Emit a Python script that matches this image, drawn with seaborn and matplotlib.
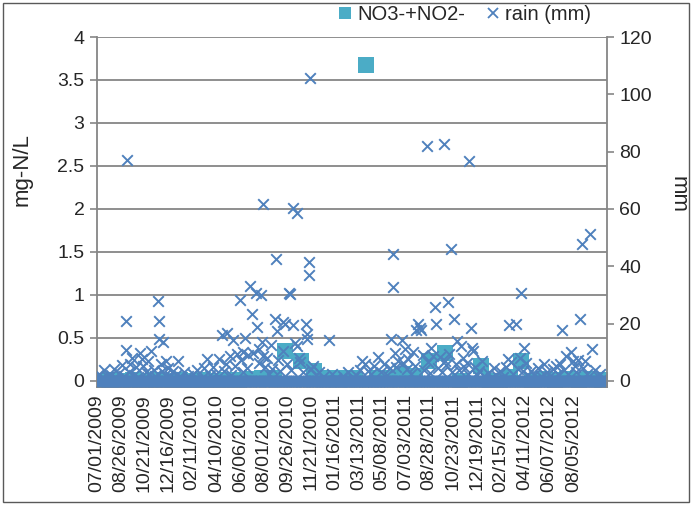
import matplotlib
matplotlib.use("Agg")
import matplotlib.pyplot as plt
from matplotlib.lines import Line2D
from matplotlib.patches import Rectangle
import seaborn as sns
import pandas as pd
import numpy as np

sns.set_style("white")
plt.rcParams["font.family"] = ["Liberation Sans", "DejaVu Sans"]

# --- data ---

# NO3- + NO2- samples (mg-N/L)
no3_dates = [
    "2009-07-01", "2009-07-29", "2009-08-26", "2009-09-23", "2009-10-21", "2009-11-18",
    "2009-12-16", "2010-01-13", "2010-02-10", "2010-03-10", "2010-04-07", "2010-05-05",
    "2010-06-02", "2010-06-30", "2010-07-28", "2010-08-25", "2010-09-20", "2010-10-27",
    "2010-11-28", "2010-12-29", "2011-01-26", "2011-02-23", "2011-03-06", "2011-04-01",
    "2011-04-27", "2011-05-25", "2011-06-25", "2011-07-26", "2011-08-27", "2011-10-05",
    "2011-11-10", "2011-12-29", "2012-01-20", "2012-02-12", "2012-03-07", "2012-04-02",
    "2012-04-28", "2012-05-25", "2012-06-22", "2012-07-20", "2012-08-17", "2012-09-14",
    "2012-10-12",
]
no3_values = [
    0.0, 0.01, 0.0, 0.01, 0.0, 0.01,
    0.0, 0.01, 0.0, 0.01, 0.0, 0.01,
    0.01, 0.02, 0.03, 0.03, 0.35, 0.23,
    0.12, 0.04, 0.03, 0.03, 0.02, 3.67,
    0.03, 0.03, 0.08, 0.06, 0.23, 0.33,
    0.0, 0.17, 0.0, 0.0, 0.05, 0.23,
    0.0, 0.02, 0.01, 0.02, 0.01, 0.02,
    0.01,
]

# daily rain record (mm); days not listed below were dry
record_start = "2009-07-01"
record_end = "2012-10-20"

storm_dates = [
    "2009-09-07", "2009-09-08", "2009-09-09", "2009-09-21", "2009-10-11", "2009-10-15",
    "2009-11-06", "2009-11-22", "2009-11-24", "2009-11-25", "2009-12-05", "2009-12-12",
    "2010-01-10", "2010-03-18", "2010-04-23", "2010-05-06", "2010-05-19", "2010-05-28",
    "2010-06-04", "2010-06-17", "2010-06-28", "2010-07-03", "2010-07-07", "2010-07-12",
    "2010-07-15", "2010-07-24", "2010-07-28", "2010-07-29", "2010-07-30", "2010-08-27",
    "2010-08-30", "2010-08-31", "2010-09-15", "2010-09-16", "2010-09-20", "2010-09-30",
    "2010-10-01", "2010-10-09", "2010-10-10", "2010-10-14", "2010-10-18", "2010-10-19",
    "2010-10-22", "2010-11-09", "2010-11-10", "2010-11-11", "2010-11-16", "2010-11-17",
    "2010-11-19", "2010-11-21", "2011-01-02", "2011-03-21", "2011-03-29", "2011-04-29",
    "2011-05-28", "2011-05-29", "2011-06-03", "2011-06-04", "2011-06-16", "2011-06-24",
    "2011-07-02", "2011-07-21", "2011-07-29", "2011-08-02", "2011-08-06", "2011-08-10",
    "2011-08-22", "2011-09-07", "2011-09-11", "2011-09-13", "2011-10-03", "2011-10-05",
    "2011-10-11", "2011-10-18", "2011-10-26", "2011-11-03", "2011-11-11", "2011-11-17",
    "2011-11-25", "2011-12-01", "2011-12-05", "2011-12-07", "2011-12-11", "2011-12-31",
    "2012-01-28", "2012-03-03", "2012-03-05", "2012-03-21", "2012-03-31", "2012-04-02",
    "2012-04-10", "2012-05-26", "2012-06-18", "2012-07-09", "2012-08-04", "2012-08-20",
    "2012-08-24", "2012-08-28", "2012-09-13", "2012-09-19",
]
storm_mm = [
    10.8, 21, 77, 8.1, 9.9, 7.6,
    10.5, 28, 21, 14.5, 13.7, 7,
    7, 7.6, 16, 16.9, 14.3, 9.3,
    28.1, 15.1, 33.1, 23.2, 9.9, 30.8,
    18.8, 29.9, 13.5, 61.6, 8.7, 21.7,
    42.7, 17.4, 20.6, 10.5, 20, 30.7,
    30.4, 19.5, 60.5, 13.4, 12.2, 58.6,
    8.1, 20, 16.3, 14.5, 37, 41.5,
    105.6, 4.3, 14.3, 7, 5.8, 8.4,
    4.5, 14.5, 32.8, 44.4, 7, 14.3,
    11, 10.1, 17.7, 19.8, 18.6, 17.8,
    82, 8.7, 25.8, 20, 82.6, 7,
    27.6, 45.9, 21.7, 14, 12.2, 8.1,
    6.4, 76.7, 18.4, 11.6, 10.5, 7,
    4.7, 7.6, 19.4, 20, 8.1, 30.8,
    11.6, 5.8, 4.1, 17.7, 7, 21.7,
    47.9, 4.7, 51.4, 11,
]

light_dates = [
    "2009-07-05", "2009-07-12", "2009-07-18", "2009-07-26", "2009-08-03", "2009-08-09",
    "2009-08-15", "2009-08-21", "2009-08-30", "2009-09-03", "2009-09-14", "2009-09-17",
    "2009-09-26", "2009-10-02", "2009-10-06", "2009-10-18", "2009-10-24", "2009-10-29",
    "2009-11-02", "2009-11-12", "2009-11-16", "2009-11-29", "2009-12-02", "2009-12-09",
    "2009-12-17", "2009-12-22", "2009-12-27", "2010-01-04", "2010-01-17", "2010-01-24",
    "2010-02-02", "2010-02-14", "2010-02-24", "2010-03-06", "2010-03-12", "2010-03-27",
    "2010-04-03", "2010-04-10", "2010-04-16", "2010-04-28", "2010-05-02", "2010-05-12",
    "2010-05-15", "2010-05-24", "2010-06-08", "2010-06-11", "2010-06-13", "2010-06-21",
    "2010-06-24", "2010-07-19", "2010-07-21", "2010-08-04", "2010-08-08", "2010-08-12",
    "2010-08-17", "2010-08-21", "2010-09-04", "2010-09-08", "2010-09-24", "2010-10-04",
    "2010-10-26", "2010-11-02", "2010-11-26", "2010-12-03", "2010-12-09", "2010-12-19",
    "2011-01-10", "2011-01-20", "2011-02-05", "2011-02-16", "2011-02-28", "2011-03-08",
    "2011-03-16", "2011-04-06", "2011-04-12", "2011-04-20", "2011-05-06", "2011-05-14",
    "2011-05-20", "2011-06-09", "2011-06-11", "2011-06-28", "2011-07-06", "2011-07-10",
    "2011-07-15", "2011-07-25", "2011-08-14", "2011-08-17", "2011-08-26", "2011-08-30",
    "2011-09-02", "2011-09-18", "2011-09-24", "2011-09-28", "2011-10-08", "2011-10-14",
    "2011-10-22", "2011-10-30", "2011-11-07", "2011-11-21", "2011-11-29", "2011-12-15",
    "2011-12-20", "2011-12-25", "2012-01-05", "2012-01-14", "2012-01-21", "2012-02-04",
    "2012-02-12", "2012-02-20", "2012-02-27", "2012-03-10", "2012-03-14", "2012-03-25",
    "2012-04-06", "2012-04-14", "2012-04-19", "2012-04-26", "2012-05-04", "2012-05-12",
    "2012-05-19", "2012-06-02", "2012-06-09", "2012-06-24", "2012-06-29", "2012-07-04",
    "2012-07-14", "2012-07-18", "2012-07-24", "2012-07-29", "2012-08-08", "2012-08-12",
    "2012-08-16", "2012-09-02", "2012-09-07", "2012-09-24", "2012-10-01", "2012-10-08",
    "2012-10-15",
]
light_mm = [
    2.5, 1.2, 3.8, 1.5, 2.0, 4.2,
    1.0, 2.8, 5.5, 1.8, 3.2, 6.0,
    2.2, 4.8, 1.4, 5.2, 3.0, 6.8,
    2.4, 4.0, 1.6, 5.8, 3.4, 2.0,
    4.6, 1.8, 3.6, 2.2, 1.4, 3.0,
    1.6, 2.4, 3.8, 1.2, 4.4, 2.0,
    5.0, 2.6, 7.8, 3.4, 6.0, 8.8,
    2.2, 5.4, 7.4, 3.0, 10.2, 4.6,
    9.0, 6.2, 11.2, 5.0, 8.0, 2.4,
    12.5, 4.2, 7.2, 3.6, 5.8, 4.0,
    6.6, 3.0, 5.4, 2.0, 3.2, 1.4,
    2.4, 1.0, 1.8, 3.0, 1.2, 2.2,
    4.0, 3.6, 2.4, 5.4, 3.0, 6.0,
    2.0, 9.6, 5.0, 6.2, 4.2, 7.8,
    2.6, 5.2, 9.0, 4.0, 6.6, 2.8,
    11.6, 4.4, 8.2, 3.0, 5.6, 9.4,
    3.2, 6.0, 3.8, 4.6, 2.6, 5.0,
    2.0, 3.6, 1.6, 2.8, 1.2, 2.0,
    3.4, 1.4, 5.0, 6.6, 2.4, 4.2,
    3.6, 6.4, 2.2, 3.4, 2.0, 4.4,
    1.6, 3.0, 1.8, 5.2, 2.6, 6.0,
    3.8, 8.6, 2.4, 10.0, 5.4, 3.2,
    7.4, 6.8, 2.6, 3.8, 1.6, 2.4,
    1.0,
]

tick_labels = [
    "07/01/2009", "08/26/2009", "10/21/2009", "12/16/2009", "02/11/2010",
    "04/10/2010", "06/06/2010", "08/01/2010", "09/26/2010", "11/21/2010",
    "01/16/2011", "03/13/2011", "05/08/2011", "07/03/2011", "08/28/2011",
    "10/23/2011", "12/19/2011", "02/15/2012", "04/11/2012", "06/07/2012",
    "08/05/2012",
]

CYAN = "#4BACC6"
BLUE = "#4F81BD"
GREY = "#868686"

# --- build frames ---
no3_df = pd.DataFrame({"date": pd.to_datetime(no3_dates), "no3": no3_values})

rain = pd.Series(0.0, index=pd.date_range(record_start, record_end, freq="D"))
events = pd.concat([
    pd.Series(storm_mm, index=pd.to_datetime(storm_dates)),
    pd.Series(light_mm, index=pd.to_datetime(light_dates)),
]).groupby(level=0).max()
rain.loc[events.index] = events.values
rain_df = rain.rename("mm").rename_axis("date").reset_index()

# --- plot ---
fig = plt.figure(figsize=(6.92, 5.05), dpi=100)
ax = fig.add_axes([97 / 692, 1 - 387 / 505, 510 / 692, 350 / 505])
ax2 = ax.twinx()

sns.scatterplot(data=no3_df, x="date", y="no3", marker="s", s=135,
                color=CYAN, edgecolor=CYAN, linewidth=0, ax=ax, legend=False)
sns.scatterplot(data=rain_df, x="date", y="mm", marker="x", s=58,
                color=BLUE, linewidth=1.4, ax=ax2, legend=False)

x0 = pd.Timestamp(record_start) - pd.Timedelta(days=0.5)
ax.set_xlim(x0, x0 + pd.Timedelta(days=1211))
ax.set_ylim(-0.07, 4)
ax2.set_ylim(-2.1, 120)

ax.set_yticks(np.arange(0, 4.01, 0.5))
ax.set_yticklabels(["0", "0.5", "1", "1.5", "2", "2.5", "3", "3.5", "4"])
ax2.set_yticks(np.arange(0, 121, 20))

tick_dates = pd.to_datetime(tick_labels, format="%m/%d/%Y")
ax.set_xticks(tick_dates)
ax.set_xticklabels(tick_labels, rotation=90, fontsize=14)

ax.yaxis.grid(True, color=GREY, linewidth=1.3)
ax.set_axisbelow(True)

for name, sp in ax.spines.items():
    sp.set_visible(name in ("left", "bottom"))
    sp.set_color(GREY)
    sp.set_linewidth(1.3)
for name, sp in ax2.spines.items():
    sp.set_visible(name == "right")
    sp.set_color(GREY)
    sp.set_linewidth(1.3)

ax.tick_params(axis="y", length=5, color=GREY, width=1.2, labelsize=14, pad=4)
ax.tick_params(axis="x", length=0, pad=5)
ax2.tick_params(axis="y", length=5, color=GREY, width=1.2, labelsize=14, pad=4)

ax.set_xlabel("")
ax.set_ylabel("mg-N/L", fontsize=16)
ax.yaxis.set_label_coords(-0.127, 0.62)
ax2.set_ylabel("mm", fontsize=16, rotation=270, va="center")
ax2.yaxis.set_label_coords(1.139, 0.55)

handles = [
    Line2D([], [], marker="s", linestyle="none", markersize=9,
           color=CYAN, markeredgewidth=0),
    Line2D([], [], marker="x", linestyle="none", markersize=7,
           color=BLUE, markeredgewidth=1.3),
]
fig.legend(handles, ["NO3-+NO2-", "rain (mm)"], loc="center",
           bbox_to_anchor=(464 / 692, 1 - 15 / 505), ncol=2, frameon=False,
           fontsize=14.5, handlelength=0.8, handletextpad=0.2, columnspacing=1.0)

fig.patches.append(Rectangle((3 / 692, 3 / 505), 686 / 692, 499 / 505,
                             transform=fig.transFigure, fill=False,
                             edgecolor="#595959", linewidth=1))

fig.savefig("out.png", dpi=100)
